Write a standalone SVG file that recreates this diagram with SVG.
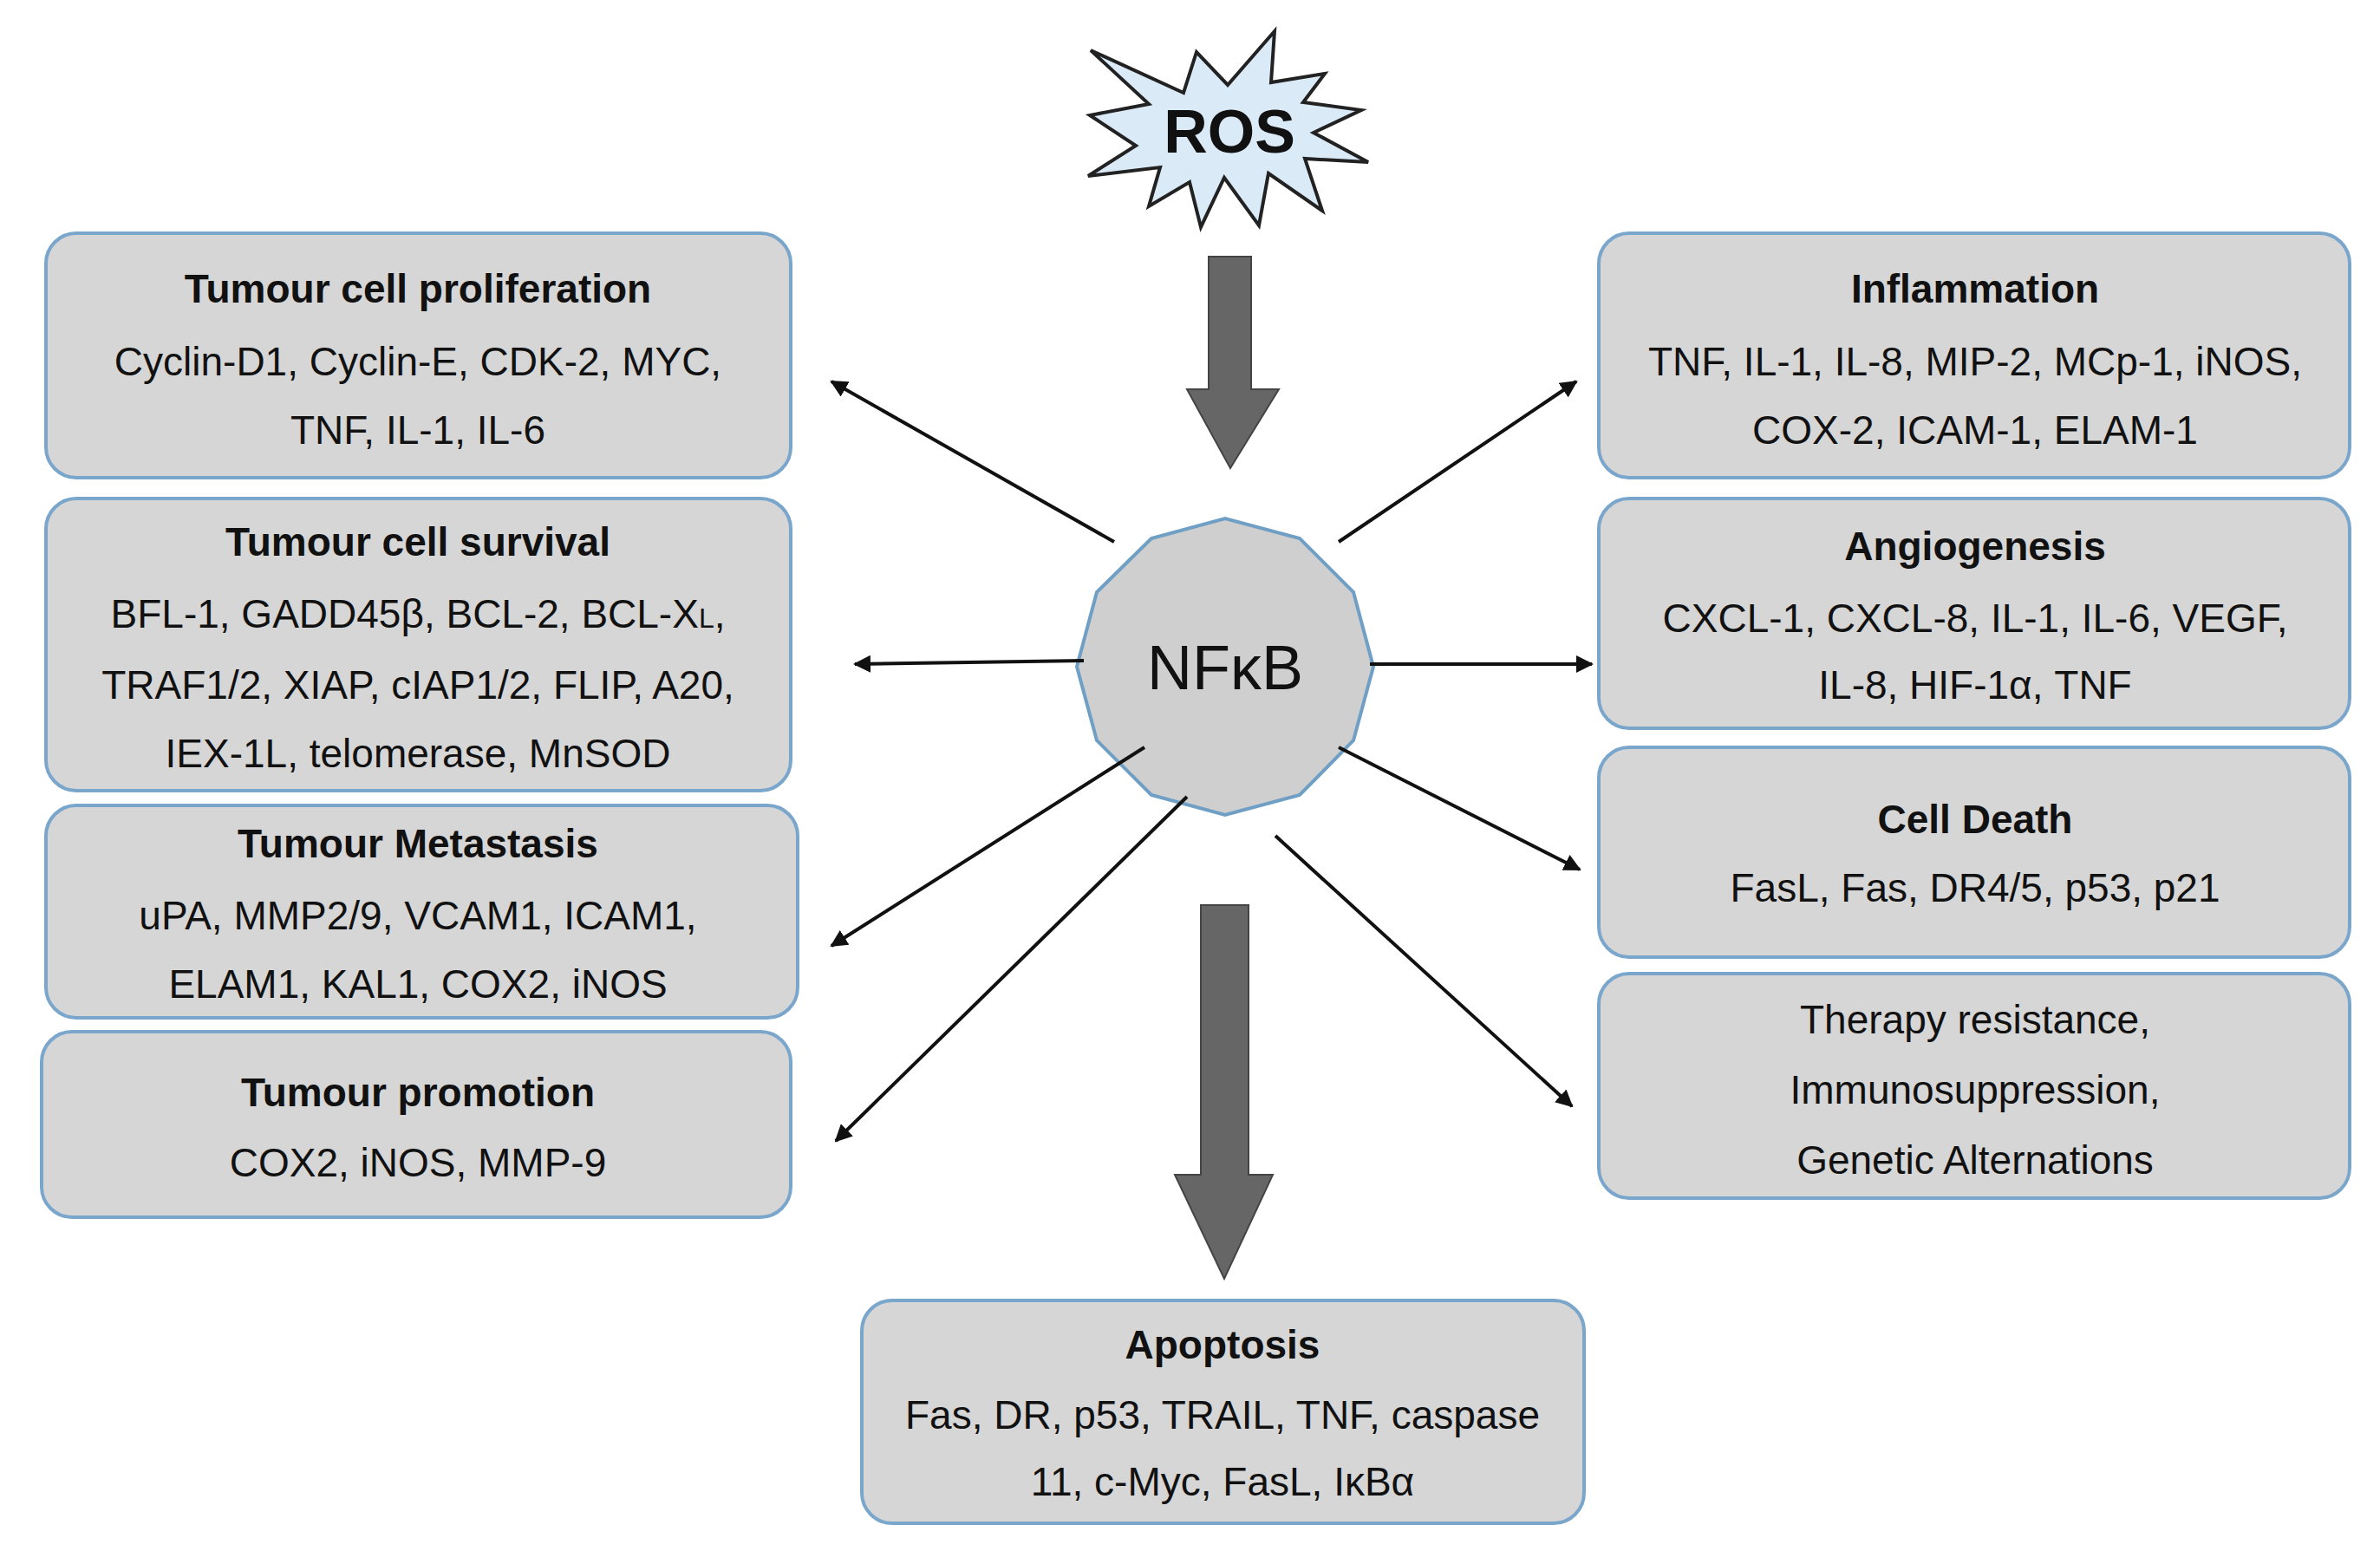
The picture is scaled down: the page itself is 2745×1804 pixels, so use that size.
<svg xmlns="http://www.w3.org/2000/svg" width="2745" height="1804" viewBox="0 0 2745 1804">
<style>
.box{fill:#d6d6d6;stroke:#7aa6cc;stroke-width:4}
text{font-family:"Liberation Sans",Arial,sans-serif;font-size:46px;fill:#111;text-anchor:middle}
.t{font-weight:bold}
.c{stroke:#111;stroke-width:4;fill:none;marker-end:url(#ah)}
.big{fill:#666;stroke:#444;stroke-width:2}
</style>
<defs>
<marker id="ah" viewBox="0 0 10 10" refX="9" refY="5" markerWidth="5" markerHeight="5" orient="auto"><path d="M0,0L10,5L0,10z" fill="#111"/></marker>
</defs>
<rect width="2745" height="1804" fill="#fff"/>
<g id="ros">
<polygon fill="#dbeaf7" stroke="#222" stroke-width="4" points="1258,58 1365,107 1380,60 1416,98 1470,36 1466,95 1528,85 1503,118 1570,127 1515,153 1578,187 1505,183 1525,243 1463,200 1452,260 1412,205 1385,262 1372,210 1325,238 1338,193 1255,203 1310,168 1257,133 1325,120"/>
<text x="1418" y="176" class="t" style="font-size:70px">ROS</text>
</g>
<g id="nfkb">
<polygon fill="#cfcfcf" stroke="#6f9fc4" stroke-width="4" points="1584,769 1561,854 1499,917 1413,940 1328,917 1265,854 1242,769 1265,683 1328,621 1413,598 1499,621 1561,683"/>
<text x="1413" y="795" style="font-size:72px">NFκB</text>
</g>
<g id="connectors">
<path class="big" d="M1394,296H1443V449H1475L1419,540L1369,449H1394Z"/>
<path class="big" d="M1385,1044H1440V1355H1468L1412,1475L1355,1355H1385Z"/>
<line class="c" x1="1285" y1="625" x2="959" y2="440"/>
<line class="c" x1="1250" y1="762" x2="986" y2="766"/>
<line class="c" x1="1320" y1="862" x2="959" y2="1091"/>
<line class="c" x1="1369" y1="919" x2="964" y2="1316"/>
<line class="c" x1="1544" y1="625" x2="1818" y2="440"/>
<line class="c" x1="1580" y1="766" x2="1836" y2="766"/>
<line class="c" x1="1544" y1="862" x2="1822" y2="1003"/>
<line class="c" x1="1471" y1="964" x2="1813" y2="1276"/>
</g>
<g id="prolif"><rect class="box" x="53" y="269" width="859" height="282" rx="35"/>
<text x="482" y="349" class="t">Tumour cell proliferation</text>
<text x="482" y="433">Cyclin-D1, Cyclin-E, CDK-2, MYC,</text>
<text x="482" y="512">TNF, IL-1, IL-6</text></g>
<g id="survival"><rect class="box" x="53" y="575" width="859" height="337" rx="35"/>
<text x="482" y="641" class="t">Tumour cell survival</text>
<text x="482" y="724">BFL-1, GADD45β, BCL-2, BCL-X<tspan style="font-size:32px">L</tspan>,</text>
<text x="482" y="806">TRAF1/2, XIAP, cIAP1/2, FLIP, A20,</text>
<text x="482" y="885">IEX-1L, telomerase, MnSOD</text></g>
<g id="metastasis"><rect class="box" x="53" y="929" width="867" height="245" rx="35"/>
<text x="482" y="989" class="t">Tumour Metastasis</text>
<text x="482" y="1072">uPA, MMP2/9, VCAM1, ICAM1,</text>
<text x="482" y="1151">ELAM1, KAL1, COX2, iNOS</text></g>
<g id="promotion"><rect class="box" x="48" y="1190" width="864" height="214" rx="35"/>
<text x="482" y="1276" class="t">Tumour promotion</text>
<text x="482" y="1357">COX2, iNOS, MMP-9</text></g>
<g id="inflammation"><rect class="box" x="1844" y="269" width="866" height="282" rx="35"/>
<text x="2278" y="349" class="t">Inflammation</text>
<text x="2278" y="433">TNF, IL-1, IL-8, MIP-2, MCp-1, iNOS,</text>
<text x="2278" y="512">COX-2, ICAM-1, ELAM-1</text></g>
<g id="angiogenesis"><rect class="box" x="1844" y="575" width="866" height="265" rx="35"/>
<text x="2278" y="646" class="t">Angiogenesis</text>
<text x="2278" y="729">CXCL-1, CXCL-8, IL-1, IL-6, VEGF,</text>
<text x="2278" y="806">IL-8, HIF-1α, TNF</text></g>
<g id="celldeath"><rect class="box" x="1844" y="862" width="866" height="242" rx="35"/>
<text x="2278" y="961" class="t">Cell Death</text>
<text x="2278" y="1040">FasL, Fas, DR4/5, p53, p21</text></g>
<g id="therapy"><rect class="box" x="1844" y="1123" width="866" height="259" rx="35"/>
<text x="2278" y="1192">Therapy resistance,</text>
<text x="2278" y="1273">Immunosuppression,</text>
<text x="2278" y="1354">Genetic Alternations</text></g>
<g id="apoptosis"><rect class="box" x="994" y="1500" width="833" height="257" rx="35"/>
<text x="1410" y="1567" class="t">Apoptosis</text>
<text x="1410" y="1648">Fas, DR, p53, TRAIL, TNF, caspase</text>
<text x="1410" y="1725">11, c-Myc, FasL, IκBα</text></g>
</svg>
